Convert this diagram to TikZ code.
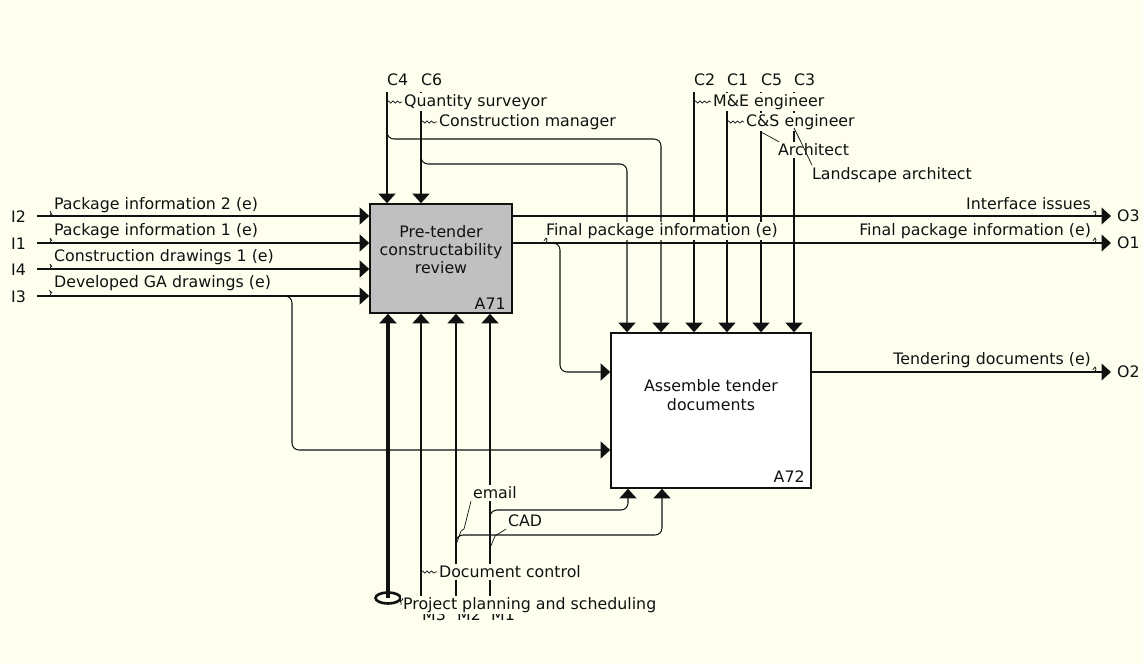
\documentclass[tikz,border=0pt]{standalone}
\usepackage{fontspec}
\setmainfont{DejaVu Sans}
\usepackage{tikz}
\usetikzlibrary{positioning, arrows.meta, calc, shapes.geometric, decorations.pathmorphing}
\definecolor{paper}{HTML}{FFFFF0}
\definecolor{boxgrey}{HTML}{C0C0C0}
\definecolor{ink}{HTML}{111111}
\tikzset{
  act/.style   = {rectangle, draw=ink, line width=0.9pt, inner sep=0pt},
  tag/.style   = {inner sep=1pt, text=ink, font=\fontsize{9}{10.4}\selectfont},
  lbl/.style   = {tag, fill=paper},
  ar/.style    = {-{Triangle[length=1.9mm,width=3.4mm]}, line width=0.6pt, draw=ink},
  wire/.style  = {rounded corners=4pt},
  squig/.style = {draw=ink, line width=0.4pt, decorate,
                  decoration={snake, amplitude=0.6pt, segment length=2.6pt}},
  lead/.style  = {draw=ink, line width=0.4pt},
}

\begin{document}
\begin{tikzpicture}[x=0.02cm, y=-0.02cm]

  \fill[paper] (0,0) rectangle (1143,664);
  \useasboundingbox (0,0) rectangle (1143,664);

  % activities
  \node[act, fill=boxgrey, minimum width=2.84cm, minimum height=2.18cm] (a71) at (441,258.5) {};
  \node[act, fill=white, minimum width=4cm, minimum height=3.1cm] (a72) at (711,410.5) {};
  \node[tag, align=center] (a71txt) at ([yshift=0.18cm]a71.center) {Pre-tender\\constructability\\review};
  \node[tag, anchor=east] (a71no) at ([shift={(-5,-10)}]a71.south east) {A71};
  \node[tag, align=center] (a72txt) at ([yshift=0.31cm]a72.center) {Assemble tender\\documents};
  \node[tag, anchor=east] (a72no) at ([shift={(-5,-12)}]a72.south east) {A72};

  % boundary points
  \coordinate (i2) at (37,216);
  \coordinate (i1) at (37,243);
  \coordinate (i4) at (37,269);
  \coordinate (i3) at (37,296);
  \coordinate (o3) at (1111,216);
  \coordinate (o1) at (1111,243);
  \coordinate (o2) at (1111,372);
  \coordinate (c4) at (387,92);
  \coordinate (c6) at (421,92);
  \coordinate (c2) at (694,92);
  \coordinate (c1) at (727,92);
  \coordinate (c5) at (761,92);
  \coordinate (c3) at (794,92);
  \coordinate (m3) at (421,597);
  \coordinate (m2) at (456,597);
  \coordinate (m1) at (490,597);

  % inputs
  \foreach \p in {i2,i1,i4,i3}
    \draw[ar] (\p) -- (\p -| a71.west);
  \coordinate (gaknee) at (292,296);
  \coordinate (ga) at (292,450);
  \draw[ar, wire] ([xshift=-0.2cm]gaknee) -- (gaknee) -- (ga) -- (ga -| a72.west);

  % outputs
  \draw[ar] (o3 -| a71.east) -- (o3);
  \draw[ar] (o1 -| a71.east) -- (o1);
  \draw[ar] (o2 -| a72.east) -- (o2);
  \coordinate (fpknee) at (560,243);
  \coordinate (fp) at (560,372);
  \draw[ar, wire] ([xshift=-0.2cm]fpknee) -- (fpknee) -- (fp) -- (fp -| a72.west);

  % controls
  \foreach \c in {c4,c6}
    \draw[ar] (\c) -- (\c |- a71.north);
  \foreach \c in {c2,c1,c5,c3}
    \draw[ar] (\c) -- (\c |- a72.north);
  \coordinate (c4knee) at (387,139);
  \coordinate (c4drop) at (661,139);
  \draw[ar, wire] ([yshift=0.2cm]c4knee) -- (c4knee) -- (c4drop) -- (c4drop |- a72.north);
  \coordinate (c6knee) at (421,164);
  \coordinate (c6drop) at (627,164);
  \draw[ar, wire] ([yshift=0.2cm]c6knee) -- (c6knee) -- (c6drop) -- (c6drop |- a72.north);

  % mechanisms
  \node[ellipse, draw=ink, line width=1.5pt, minimum width=0.5cm, minimum height=0.22cm,
        inner sep=0pt] (tun) at (388,598) {};
  \draw[ar, line width=1.8pt] (tun.center) -- (tun.center |- a71.south);
  \foreach \m in {m3,m2,m1}
    \draw[ar] (\m) -- (\m |- a71.south);
  \coordinate (emknee) at (456,535);
  \coordinate (emrise) at (662,535);
  \draw[ar, wire] ([yshift=-0.2cm]emknee) -- (emknee) -- (emrise) -- (emrise |- a72.south);
  \coordinate (cadknee) at (490,510);
  \coordinate (cadrise) at (628,510);
  \draw[ar, wire] ([yshift=-0.2cm]cadknee) -- (cadknee) -- (cadrise) -- (cadrise |- a72.south);

  % ICOM codes
  \node[tag, anchor=east] (i2no) at (28,217) {I2};
  \node[tag, anchor=east] (i1no) at (28,244) {I1};
  \node[tag, anchor=east] (i4no) at (28,270) {I4};
  \node[tag, anchor=east] (i3no) at (28,297) {I3};
  \node[tag, anchor=west] (o3no) at (1115,216) {O3};
  \node[tag, anchor=west] (o1no) at (1115,243) {O1};
  \node[tag, anchor=west] (o2no) at (1115,372) {O2};
  \foreach \c/\t in {c4/C4,c6/C6,c2/C2,c1/C1,c5/C5,c3/C3}
    \node[tag, anchor=west] (\c no) at ([shift={(-2,-12)}]\c) {\t};
  \foreach \m/\t in {m3/M3,m2/M2,m1/M1}
    \node[tag, anchor=west] (\m no) at ([shift={(-1,18)}]\m) {\t};

  % arrow labels
  \node[lbl, anchor=west] (pi2) at (52,205) {Package information 2 (e)};
  \node[lbl, anchor=west] (pi1) at (52,231) {Package information 1 (e)};
  \node[lbl, anchor=west] (cd1) at (52,257) {Construction drawings 1 (e)};
  \node[lbl, anchor=west] (dga) at (52,283) {Developed GA drawings (e)};
  \node[lbl, anchor=east] (iss) at (1093,204) {Interface issues};
  \node[lbl, anchor=east] (fpo) at (1093,231) {Final package information (e)};
  \node[lbl, anchor=east] (tdo) at (1093,360) {Tendering documents (e)};
  \node[lbl, anchor=west] (fpi) at (544,231) {Final package information (e)};
  \node[lbl, anchor=west] (qs) at (402,102) {Quantity surveyor};
  \node[lbl, anchor=west] (cm) at (437,122) {Construction manager};
  \node[lbl, anchor=west] (me) at (711,102) {M\&E engineer};
  \node[lbl, anchor=west] (cs) at (744,122) {C\&S engineer};
  \node[lbl, anchor=west] (arch) at (776,150) {Architect};
  \node[lbl, anchor=west] (larch) at (810,175) {Landscape architect};
  \node[lbl, anchor=west] (dc) at (437,572) {Document control};
  \node[lbl, anchor=west] (pps) at (401,605) {Project planning and scheduling};
  \node[lbl, anchor=west] (em) at (471,493) {email};
  \node[lbl, anchor=west] (cad) at (506,521) {CAD};

  % squiggles
  \foreach \p/\l in {i2/pi2,i1/pi1,i4/cd1,i3/dga}
    \draw[lead] ([xshift=0.26cm]\p) -- ++(1,-3) -- ++(-1,-2) -- (\l.south west);
  \foreach \p/\l in {o3/iss,o1/fpo,o2/tdo}
    \draw[lead] ([xshift=-0.32cm]\p) -- ++(1,-3) -- ++(-1,-2) -- (\l.south east);
  \draw[lead] ([xshift=-0.28cm]fpknee) -- ++(1,-3) -- ++(-1,-2) -- (fpi.south west);
  \draw[squig] (c4 |- qs) -- (qs.west);
  \draw[squig] (c6 |- cm) -- (cm.west);
  \draw[squig] (c2 |- me) -- (me.west);
  \draw[squig] (c1 |- cs) -- (cs.west);
  \draw[lead] ([yshift=-0.8cm]c5) -- ([shift={(3,0)}]arch.north west);
  \draw[lead] ([yshift=-0.72cm]c3) -- ++(6,12) -- ([shift={(2,0)}]larch.north west);
  \draw[squig] (m3 |- dc) -- (dc.west);
  \draw[squig] (tun.east) -- (pps.west);
  \draw[lead] ([yshift=-0.2cm]emknee) -- ++(5,-14) -- ++(3,-2) -- (em.south west);
  \draw[lead] ([yshift=-0.76cm]cadknee) -- ++(5,-12) -- ++(3,-2) -- (cad.south west);

\end{tikzpicture}
\end{document}
